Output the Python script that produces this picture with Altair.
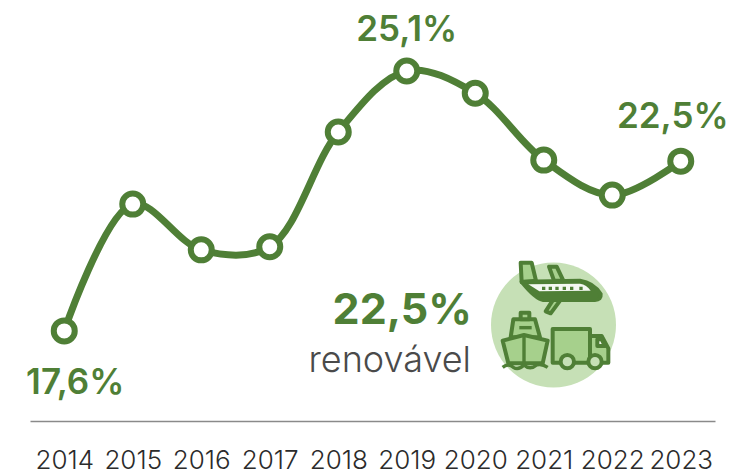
import altair as alt
import pandas as pd

years = ["2014", "2015", "2016", "2017", "2018", "2019", "2020", "2021", "2022", "2023"]
values = [17.6, 21.26, 19.94, 20.03, 23.34, 25.1, 24.46, 22.53, 21.52, 22.5]
label_years = ["2014", "2019", "2023"]
label_values = [17.6, 25.1, 22.5]
label_texts = ["17,6%", "25,1%", "22,5%"]
label_dx = [11, 0, -8]
label_dy = [52, -41, -44]

GREEN = "#4f7f36"
MID = "#a6d08c"
PALE = "#c6e0b6"
FONT = "Inter"

df = pd.DataFrame({"year": years, "value": values})
labels = pd.DataFrame({"year": label_years, "value": label_values, "text": label_texts,
                       "dx": label_dx, "dy": label_dy})

x = alt.X("year:N", sort=years, title=None,
          scale=alt.Scale(paddingInner=0, paddingOuter=0),
          axis=alt.Axis(labelAngle=0, ticks=False, grid=False, domainColor="#8a8a8a", domainWidth=1.5,
                        labelColor="#2b2b2b", labelFont=FONT, labelFontSize=26, labelFontWeight=300,
                        labelPadding=26, labelOverlap=False))
y = alt.Y("value:Q", title=None, scale=alt.Scale(domain=[15.0, 26.92], nice=False, zero=False), axis=None)

line = alt.Chart(df).mark_line(color=GREEN, strokeWidth=7, interpolate="catmull-rom", strokeCap="round").encode(x=x, y=y)
dots = alt.Chart(df).mark_point(shape="circle", size=441, filled=True, fill="white", stroke=GREEN,
                                strokeWidth=6, opacity=1).encode(x=x, y=y)

texts = []
for _, r in labels.iterrows():
    texts.append(alt.Chart(labels[labels.year == r.year]).mark_text(
        font=FONT, fontSize=35, fontWeight=600, color=GREEN, dx=int(r.dx), dy=int(r.dy), baseline="middle"
    ).encode(x=x, y=y, text="text:N"))

big = alt.Chart(pd.DataFrame({"t": ["22,5%"]})).mark_text(
    font=FONT, fontSize=43, fontWeight=700, color=GREEN, align="right", baseline="middle"
).encode(x=alt.value(442), y=alt.value(303), text="t:N")
ren = alt.Chart(pd.DataFrame({"t": ["renovável"]})).mark_text(
    font=FONT, fontSize=36, fontWeight=300, color="#4a4a4a", align="right", baseline="middle"
).encode(x=alt.value(441), y=alt.value(353), text="t:N")

disc = alt.Chart(pd.DataFrame({"a": [1]})).mark_point(shape="circle", size=15625, filled=True, fill=PALE,
                                                      opacity=1, strokeWidth=0).encode(x=alt.value(523.5), y=alt.value(317))

# icon outlines, in the units of a 3x crop of the icon (origin at plot px 450, 242)
icon_shapes = [
    ("M122,38 L155,38 L168,92 L125,97 Z", MID),
    ("M207,50 L230,50 L250,92 L222,92 Z", MID),
    ("M220,148 L243,148 L212,190 L197,184 Z", MID),
    ("M125,95 L300,92 Q340,98 362,132 Q364,150 345,150 L190,150 Q165,145 125,95 Z", GREEN),
    ("M145,103 L300,101 Q320,104 332,122 L178,124 Z", "#f4f8f2"),
    ("M92,262 L100,208 L165,208 L180,262 Z", MID),
    ("M122,208 L122,188 L148,188 L148,208 Z", MID),
    ("M68,272 L132,255 L203,272 L188,340 L85,340 Z", MID),
    ("M218,237 L330,237 L330,338 L218,338 Z", MID),
    ("M330,258 L365,258 L385,295 L385,338 L330,338 Z", MID),
    ("M352,268 L365,268 L375,288 L352,288 Z", "#f4f8f2"),
    ("M242,335 A20,20 0 1 1 282,335 A20,20 0 1 1 242,335 Z", PALE),
    ("M325,335 A20,20 0 1 1 365,335 A20,20 0 1 1 325,335 Z", PALE),
]
icon_lines = [
    "M132,255 L132,340",
    "M118,233 L155,233",
    "M68,352 Q85,338 100,352 Q115,362 132,345 Q150,362 170,345 Q185,340 203,352",
]
icon_dots = "M186,110 L196,110 L196,120 L186,120 Z M206,110 L216,110 L216,120 L206,120 Z M226,110 L236,110 L236,120 L226,120 Z M248,110 L258,110 L258,120 L248,120 Z M270,110 L280,110 L280,120 L270,120 Z M298,110 L308,110 L308,120 L298,120 Z"

one = pd.DataFrame({"a": [1]})
icons = []
for p, f in icon_shapes:
    sw = 0 if f == "#f4f8f2" and p.startswith("M145") else 4
    icons.append(alt.Chart(one).mark_point(shape=p, size=4 / 9, filled=True, fill=f, stroke=GREEN,
                                           strokeWidth=sw, strokeJoin="round", opacity=1)
                 .encode(x=alt.value(450), y=alt.value(242)))
for p in icon_lines:
    icons.append(alt.Chart(one).mark_point(shape=p, size=4 / 9, filled=False, stroke=GREEN,
                                           strokeWidth=3.4, opacity=1)
                 .encode(x=alt.value(450), y=alt.value(242)))
icons.append(alt.Chart(one).mark_point(shape=icon_dots, size=4 / 9, filled=True, fill=GREEN, strokeWidth=0, opacity=1)
             .encode(x=alt.value(450), y=alt.value(242)))

chart = alt.layer(line, dots, *texts, disc, *icons, big, ren).properties(
    width=685, height=413,
    padding={"left": 22, "top": 0, "right": 11, "bottom": 50},
    autosize=alt.AutoSizeParams(type="none"),
    background="white",
).configure_view(strokeWidth=0)

chart.save("out.html", embed_options={"renderer": "svg", "actions": False})
